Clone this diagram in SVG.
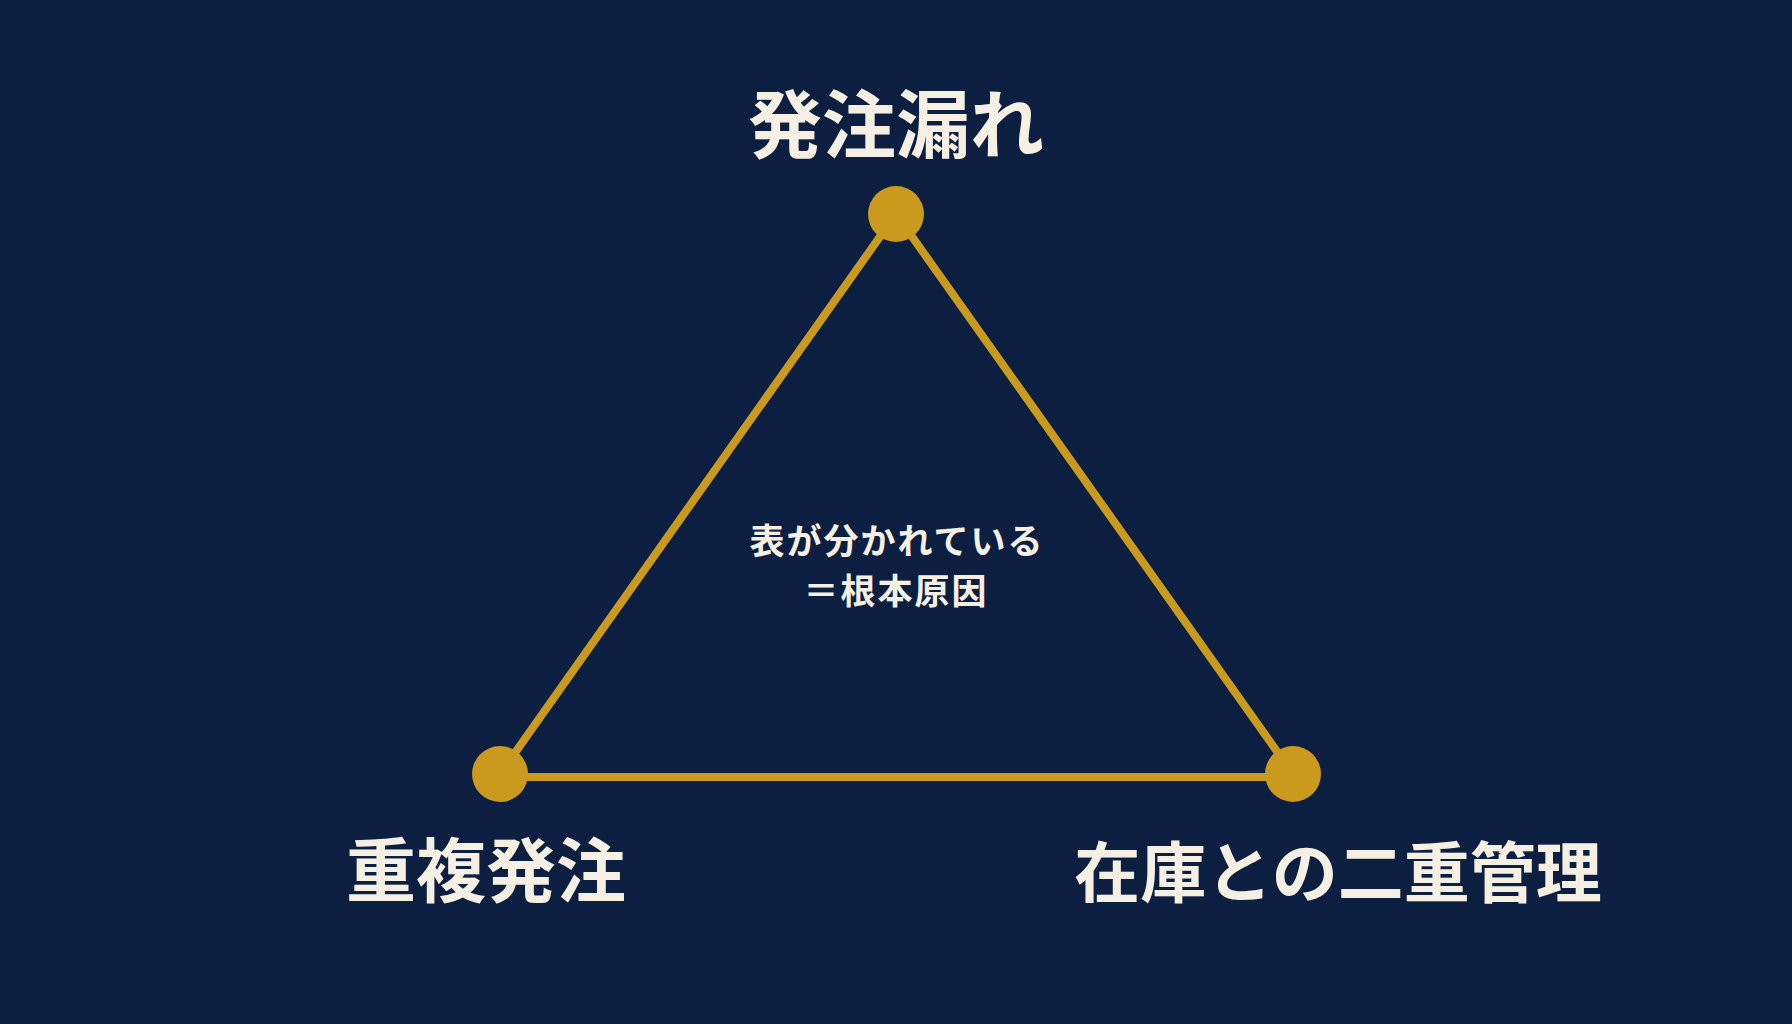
<svg xmlns="http://www.w3.org/2000/svg" width="1792" height="1024" viewBox="0 0 1792 1024">
<style>
.edge{stroke:#c99a1e;stroke-width:8;fill:none;stroke-linecap:round}
.dot{fill:#c99a1e}
.t{fill:#f6f0e4;font-family:"Noto Sans CJK JP","Noto Sans",sans-serif;font-weight:700;text-anchor:middle}
.c{font-size:35px;letter-spacing:2px}
</style>
<rect width="1792" height="1024" fill="#0c1f40"/>
<g id="connectors">
<line class="edge" x1="896" y1="214" x2="500" y2="774"/>
<line class="edge" x1="896" y1="214" x2="1293" y2="774"/>
<line class="edge" x1="500" y1="777" x2="1293" y2="777"/>
</g>
<g id="node-top">
<circle class="dot" cx="896" cy="214" r="28"/>
<text class="t" x="896" y="152" font-size="74">発注漏れ</text>
</g>
<g id="node-left">
<circle class="dot" cx="500" cy="774" r="28"/>
<text class="t" x="486" y="897" font-size="70">重複発注</text>
</g>
<g id="node-right">
<circle class="dot" cx="1293" cy="774" r="28"/>
<text class="t" x="1338" y="897" font-size="66">在庫との二重管理</text>
</g>
<g id="center-label">
<text class="t c" x="897" y="554">表が分かれている</text>
<text class="t c" x="896" y="604">＝根本原因</text>
</g>
</svg>
